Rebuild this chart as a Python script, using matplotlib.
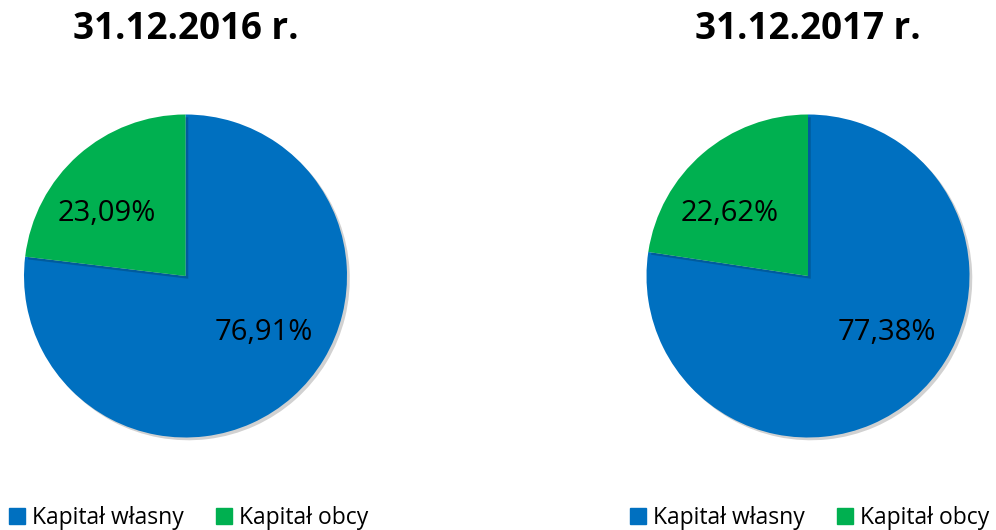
import matplotlib.pyplot as plt
from matplotlib.lines import Line2D
import matplotlib.patheffects as pe
import numpy as np

titles = ["31.12.2016 r.", "31.12.2017 r."]
categories = ["Kapitał własny", "Kapitał obcy"]
values_2016 = [76.91, 23.09]
values_2017 = [77.38, 22.62]
colors = ["#0070C0", "#00B050"]

# label placement (angle deg, distance as fraction of radius) - mimics Excel best fit
label_angles = [-36, 141.5]
label_dist = [0.60, 0.62]

W, H = 996, 530
fig = plt.figure(figsize=(W / 100, H / 100), dpi=100)
plt.rcParams['font.family'] = ['Open Sans', 'DejaVu Sans']

R = 161.5
centers = [(185.5, 276), (808, 276)]
legend_x = [10, 631]

for i, (vals, title) in enumerate(zip([values_2016, values_2017], titles)):
    cx, cy = centers[i]
    ax = fig.add_axes([(cx - R) / W, 1 - (cy + R) / H, 2 * R / W, 2 * R / H])
    wedges, _ = ax.pie(vals, colors=colors, startangle=90, counterclock=False,
                       radius=1, wedgeprops=dict(linewidth=0))
    for w in wedges:
        w.set_path_effects([pe.SimplePatchShadow(offset=(2, -2), alpha=0.18, shadow_rgbFace='k'),
                            pe.Normal()])
    for v, a, d in zip(vals, label_angles, label_dist):
        t = np.deg2rad(a)
        ax.text(d * np.cos(t), d * np.sin(t), f"{v:.2f}%".replace(".", ","),
                ha="center", va="center", fontsize=21, color="black")
    ax.set_xlim(-1, 1)
    ax.set_ylim(-1, 1)
    ax.axis("off")

    fig.text(cx / W, 1 - 29 / H, title, ha="center", va="center",
             fontsize=26.5, fontweight="bold", color="black")

    handles = [Line2D([0], [0], marker="s", linestyle="none", markersize=11,
                      markerfacecolor=c, markeredgecolor=c) for c in colors]
    fig.legend(handles, categories, loc="center left",
               bbox_to_anchor=(legend_x[i] / W, 1 - 518 / H), ncol=2,
               frameon=False, fontsize=16.5, handlelength=0.65, handletextpad=0.3,
               columnspacing=1.45, borderpad=0, borderaxespad=0)

fig.savefig("out.png", dpi=100)
